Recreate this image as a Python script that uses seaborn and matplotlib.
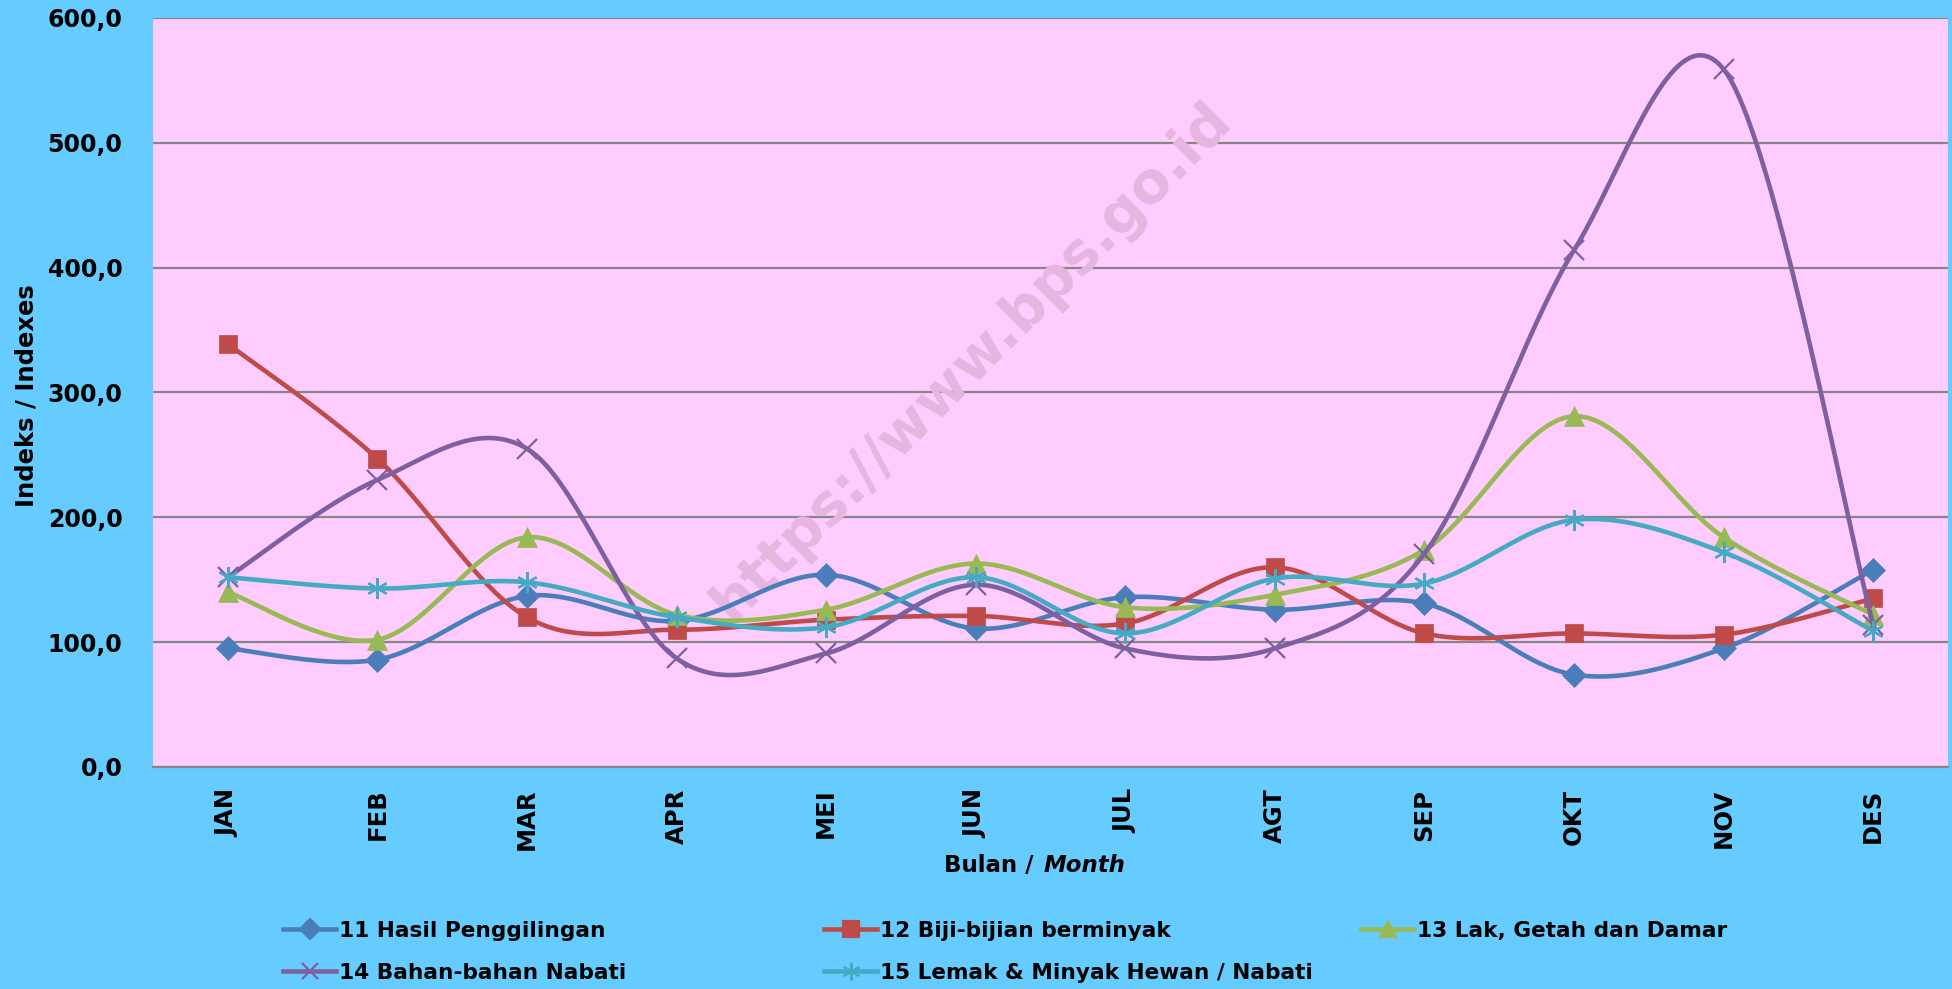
import matplotlib
matplotlib.use("Agg")
import matplotlib.pyplot as plt
from matplotlib.lines import Line2D
import numpy as np
import seaborn as sns

months = ["JAN", "FEB", "MAR", "APR", "MEI", "JUN", "JUL", "AGT", "SEP", "OKT", "NOV", "DES"]
hasil_penggilingan = [95, 86, 137, 117, 154, 111, 136, 126, 131, 74, 95, 158]
biji_bijian = [339, 247, 120, 110, 118, 121, 115, 160, 107, 107, 106, 135]
lak_getah = [140, 102, 184, 122, 126, 163, 128, 138, 174, 281, 184, 122]
bahan_nabati = [152, 230, 255, 87, 91, 146, 95, 95, 171, 414, 559, 114]
lemak_minyak = [152, 143, 148, 120, 112, 152, 107, 151, 147, 198, 172, 109]

series_names = ["11 Hasil Penggilingan", "12 Biji-bijian berminyak", "13 Lak, Getah dan Damar",
                "14 Bahan-bahan Nabati", "15 Lemak & Minyak Hewan / Nabati"]
series_values = [hasil_penggilingan, biji_bijian, lak_getah, bahan_nabati, lemak_minyak]
colors = ["#4A7EBB", "#BE4B48", "#98B954", "#7D60A0", "#46AAC5"]
markers = ["D", "s", "^", "x", (6, 2, 0)]
msizes = [12, 13, 14, 14, 15]

yticks = [0, 100, 200, 300, 400, 500, 600]


def smooth(xs, ys, n=40):
    """Excel-like smoothed line (Catmull-Rom bezier through the points)."""
    pts = np.column_stack([xs, ys]).astype(float)
    m = len(pts)
    out = []
    for i in range(m - 1):
        p0 = pts[max(i - 1, 0)]
        p1 = pts[i]
        p2 = pts[i + 1]
        p3 = pts[min(i + 2, m - 1)]
        c1 = p1 + (p2 - p0) / 6
        c2 = p2 - (p3 - p1) / 6
        t = np.linspace(0, 1, n)[:, None]
        seg = ((1 - t) ** 3) * p1 + 3 * ((1 - t) ** 2) * t * c1 + 3 * (1 - t) * t ** 2 * c2 + t ** 3 * p2
        out.append(seg if i == 0 else seg[1:])
    out = np.vstack(out)
    return out[:, 0], out[:, 1]


fig = plt.figure(figsize=(19.52, 9.89), dpi=100, facecolor="#66CCFF")
ax = fig.add_axes([153 / 1952, 1 - 767 / 989, (1948 - 153) / 1952, (767 - 18) / 989])
ax.set_facecolor("#FFCCFF")

x = np.arange(len(months))
for k, (name, vals) in enumerate(zip(series_names, series_values)):
    sx, sy = smooth(x, vals)
    sns.lineplot(x=sx, y=sy, sort=False, estimator=None, color=colors[k], linewidth=3.3,
                 ax=ax, zorder=3 + k, legend=False)
    filled = markers[k] in ("D", "s", "^")
    ax.plot(x, vals, linestyle="none", marker=markers[k], markersize=msizes[k],
            color=colors[k], markeredgewidth=1.6 if not filled else 0.5,
            markeredgecolor=colors[k], zorder=3.5 + k)

ax.set_xlim(-0.5, 11.5)
ax.set_ylim(0, 600)
ax.set_yticks(yticks)
ax.set_yticklabels([f"{v:.1f}".replace(".", ",") for v in yticks], fontsize=17, fontweight="bold")
ax.set_xticks(x)
ax.set_xticklabels(months, rotation=90, fontsize=17.5, fontweight="bold")
ax.tick_params(axis="both", length=0)
ax.tick_params(axis="y", pad=22)
ax.tick_params(axis="x", pad=15.5)
ax.grid(axis="y", color="#868686", linewidth=1.6, zorder=1)
ax.set_axisbelow(True)
for side in ["left", "right", "top"]:
    ax.spines[side].set_visible(False)
ax.spines["bottom"].set_color("#868686")
ax.spines["bottom"].set_linewidth(1.6)

# watermark
ax.text(972 / 1952, 1 - 362 / 989, "https://www.bps.go.id", transform=fig.transFigure,
        rotation=45, ha="center", va="center", fontsize=41, fontweight="bold",
        color="#E6B6E1", zorder=2)

fig.text(27 / 1952, 1 - 396 / 989, "Indeks / Indexes", rotation=90, ha="center", va="center",
         fontsize=17.5, fontweight="bold")
fig.text(1042 / 1952, 1 - 866 / 989, "Bulan / ", ha="right", va="center", fontsize=16.5, fontweight="bold")
fig.text(1044 / 1952, 1 - 866 / 989, "Month", ha="left", va="center", fontsize=16.5,
         fontweight="bold", fontstyle="italic")

handles = [Line2D([0], [0], color=colors[k], linewidth=3.3, marker=markers[k], markersize=msizes[k] * 0.85,
                  markeredgewidth=1.6, markeredgecolor=colors[k]) for k in range(5)]
columns = [([0, 3], 283), ([1, 4], 824), ([2], 1361)]
for idx, xpos in columns:
    fig.legend([handles[i] for i in idx], [series_names[i] for i in idx],
               loc="upper left", bbox_to_anchor=(xpos / 1952, 1 - 921 / 989),
               frameon=False, prop={"weight": "bold", "size": 15.6},
               handlelength=2.45, handletextpad=0.15, borderpad=0, borderaxespad=0,
               labelspacing=1.0)

fig.savefig("out.png", dpi=100, facecolor=fig.get_facecolor())
